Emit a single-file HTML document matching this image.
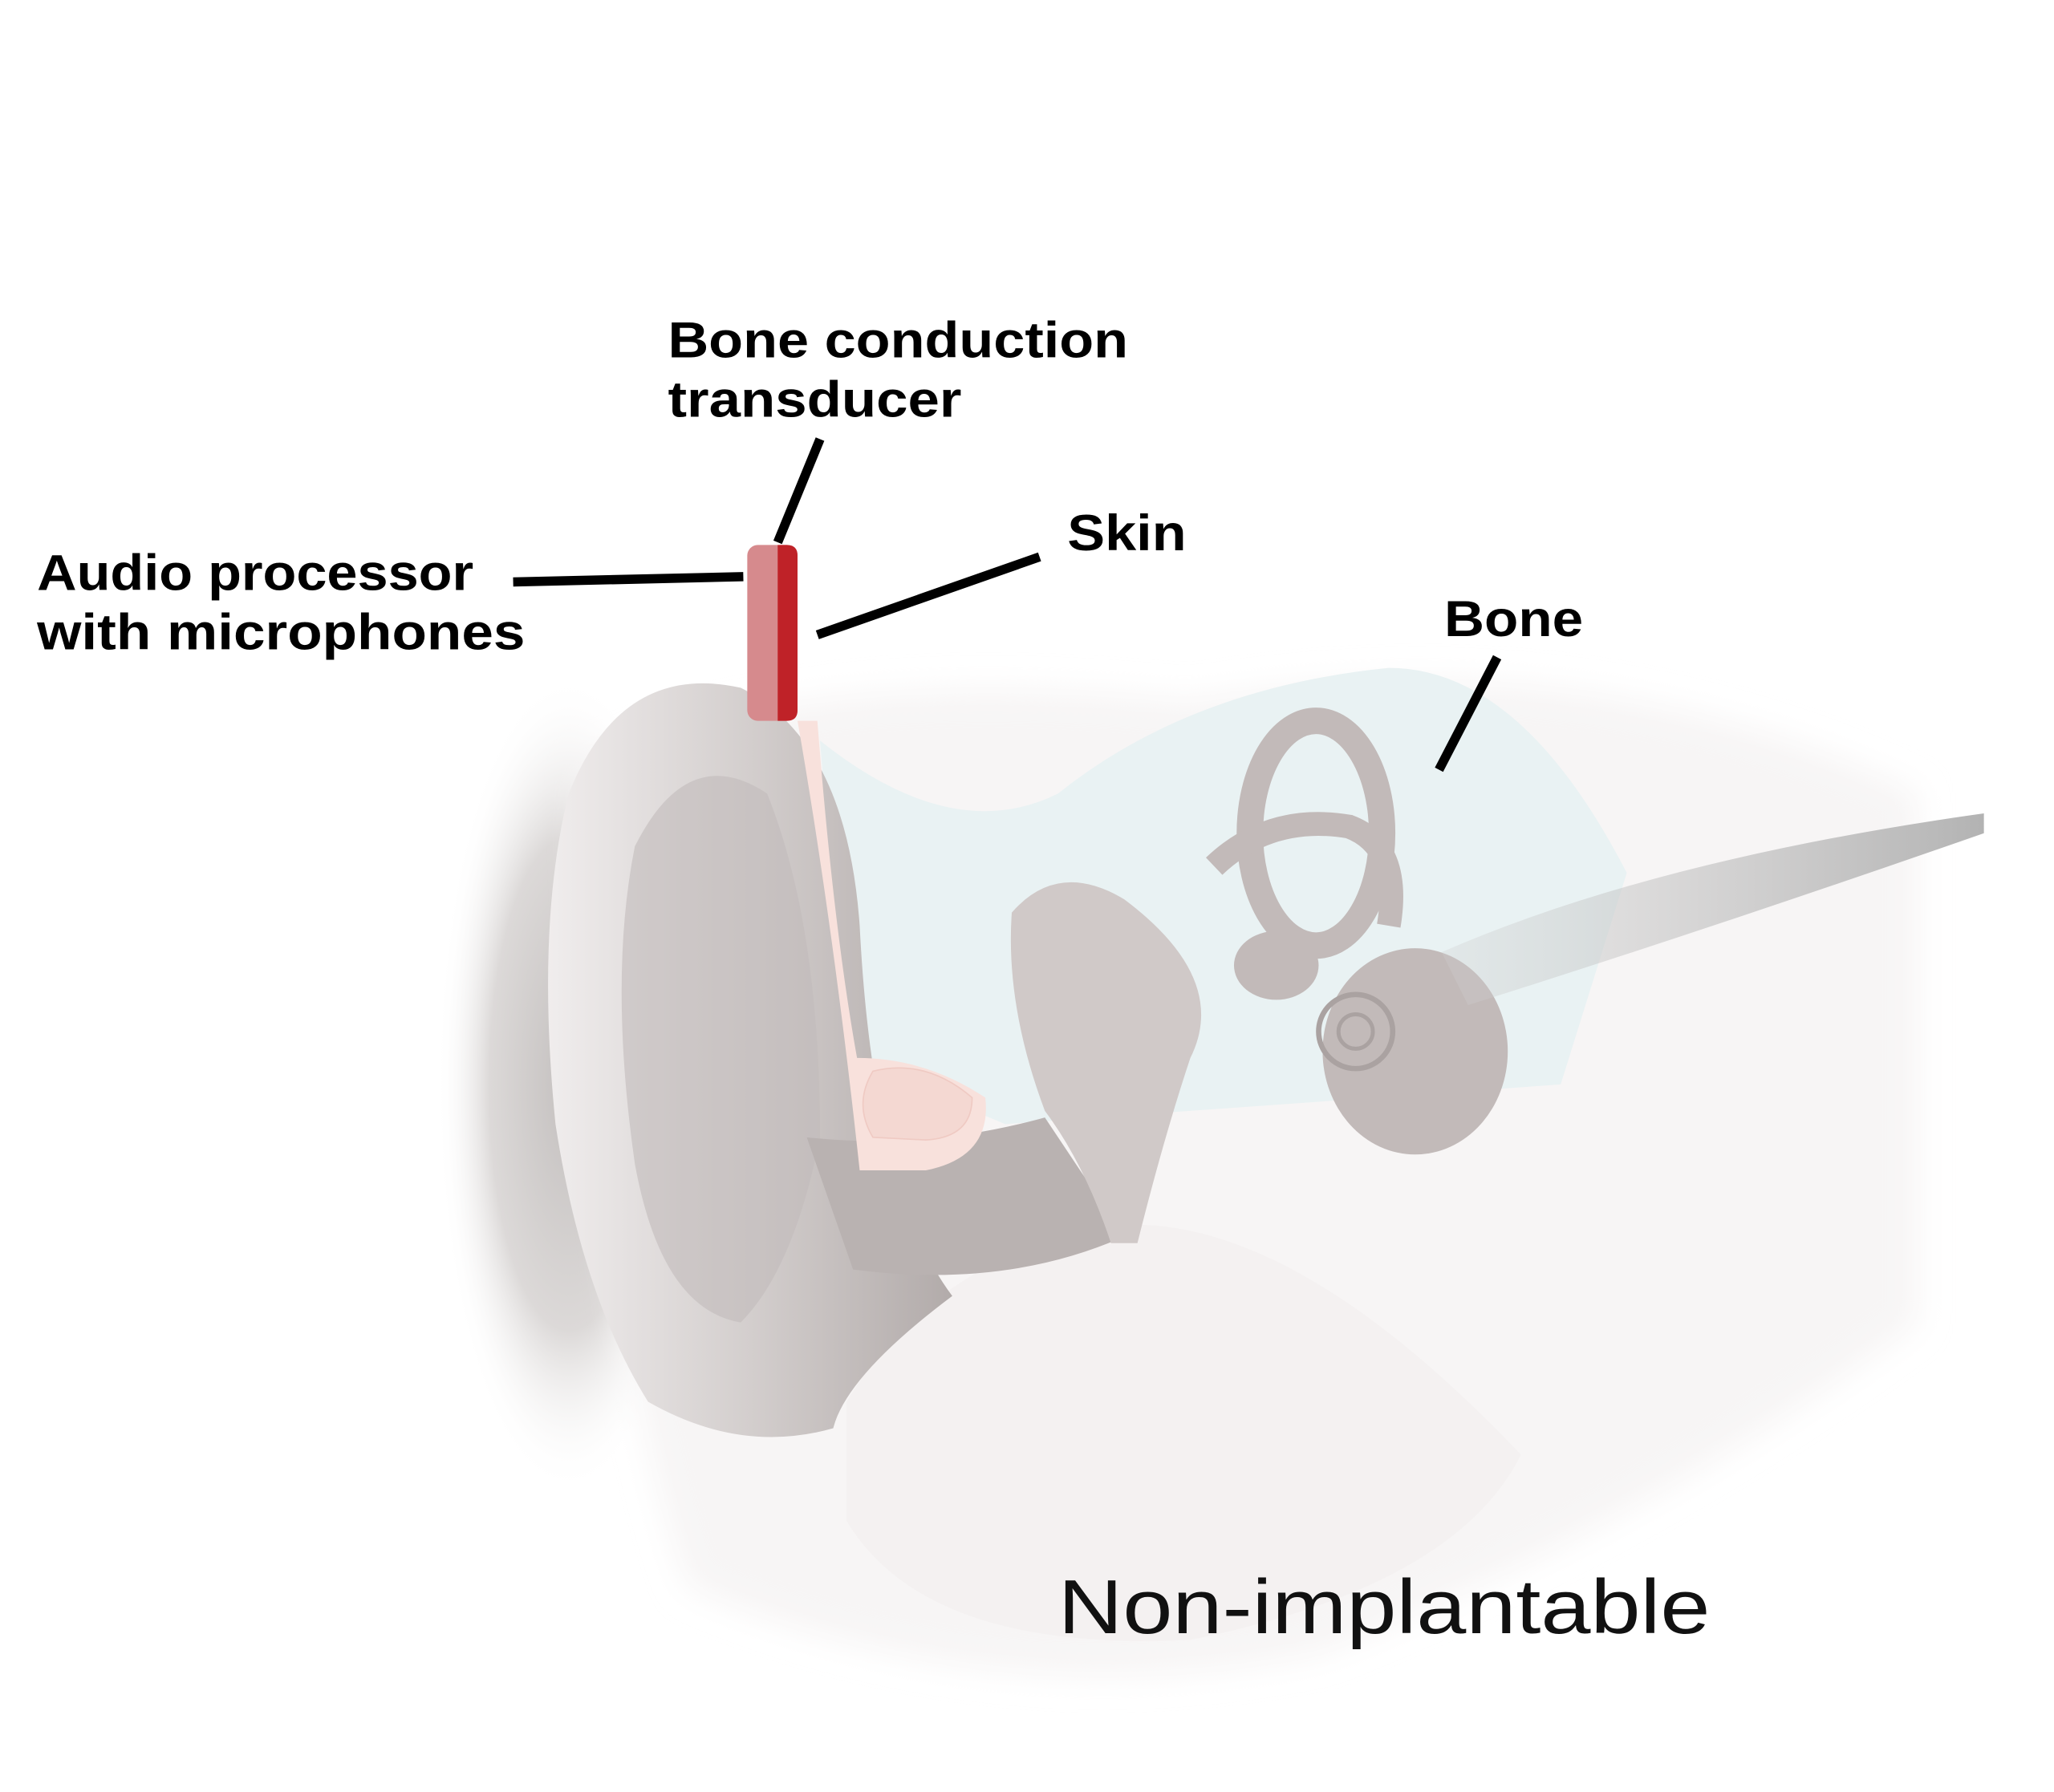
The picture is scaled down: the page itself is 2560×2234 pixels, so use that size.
<!DOCTYPE html>
<html><head><meta charset="utf-8"><style>
html,body{margin:0;padding:0;background:#fff;}
svg{display:block}
</style></head><body>
<svg width="2560" height="2234" viewBox="0 0 1553 1355" xmlns="http://www.w3.org/2000/svg">
<defs>
<radialGradient id="hair" cx="0.5" cy="0.5" r="0.5">
<stop offset="0" stop-color="#c4c0bf"/><stop offset="0.6" stop-color="#dcd9d8"/><stop offset="1" stop-color="#fff" stop-opacity="0"/>
</radialGradient>
<linearGradient id="ear" x1="0" y1="0" x2="1" y2="0">
<stop offset="0" stop-color="#f0eded"/><stop offset="0.5" stop-color="#d3cecd"/><stop offset="1" stop-color="#b2abaa"/>
</linearGradient>
<linearGradient id="nerve" x1="0" y1="0" x2="1" y2="0">
<stop offset="0" stop-color="#cfcfcf" stop-opacity="0.3"/><stop offset="1" stop-color="#aaa" stop-opacity="0.9"/>
</linearGradient>
<filter id="soft"><feGaussianBlur stdDeviation="12"/></filter>
</defs>
<rect width="1553" height="1355" fill="#fff"/>
<ellipse cx="430" cy="820" rx="100" ry="310" fill="url(#hair)"/>
<path d="M440 580 Q600 500 900 530 Q1200 480 1450 600 L1450 1000 Q1250 1150 1000 1250 Q750 1300 520 1200 Q450 1000 440 580 Z" fill="#f7f5f5" filter="url(#soft)"/>
<path d="M620 560 Q720 640 800 600 Q900 520 1050 505 Q1150 505 1230 660 L1180 820 L760 850 L640 800 Z" fill="#e9f2f3"/>
<path d="M640 1060 Q700 960 820 930 Q960 900 1150 1100 Q1100 1200 900 1240 Q700 1250 640 1150 Z" fill="#f4f1f1"/>
<path d="M430 600 Q470 500 560 520 Q640 560 650 700 Q660 900 720 980 Q640 1040 630 1080 Q560 1100 490 1060 Q440 980 420 850 Q405 700 430 600 Z" fill="url(#ear)"/>
<path d="M480 640 Q520 560 580 600 Q620 700 620 860 Q600 960 560 1000 Q500 990 480 880 Q460 740 480 640 Z" fill="#c2bbba" opacity="0.6"/>
<path d="M610 860 Q700 870 790 845 L850 935 Q760 975 645 960 Z" fill="#b9b2b1"/>
<path d="M603 545 L618 545 Q630 700 648 800 Q700 800 745 830 Q750 875 700 885 L650 885 Q630 700 603 545 Z" fill="#f8e1dc"/>
<path d="M660 810 Q700 800 735 830 Q735 860 700 862 L660 860 Q645 835 660 810Z" fill="#f4d8d2" stroke="#efcac3"/>
<path d="M765 690 Q800 650 850 680 Q930 740 900 800 Q880 860 860 940 L840 940 Q820 880 790 840 Q760 760 765 690 Z" fill="#d0c9c8"/>
<ellipse cx="995" cy="630" rx="50" ry="85" fill="none" stroke="#c2bab9" stroke-width="20"/>
<path d="M918 655 Q960 615 1020 625 Q1060 640 1050 700" fill="none" stroke="#c2bab9" stroke-width="18"/>
<ellipse cx="965" cy="730" rx="32" ry="26" fill="#c2bab9"/>
<ellipse cx="1070" cy="795" rx="70" ry="78" fill="#c2bab9"/>
<circle cx="1025" cy="780" r="28" fill="none" stroke="#aaa2a1" stroke-width="4"/>
<circle cx="1025" cy="780" r="13" fill="none" stroke="#aaa2a1" stroke-width="3"/>
<path d="M1090 720 Q1250 650 1500 615 L1500 630 Q1300 700 1110 760 Z" fill="url(#nerve)"/>
<rect x="565" y="412" width="38" height="133" rx="8" fill="#d68a8d"/>
<path d="M588 412 L595 412 Q603 412 603 420 L603 537 Q603 545 595 545 L588 545 Z" fill="#bf2228"/>
<g stroke="#000" stroke-width="7">
<line x1="620" y1="332" x2="588" y2="410"/>
<line x1="388" y1="440" x2="562" y2="436"/>
<line x1="618" y1="480" x2="786" y2="421"/>
<line x1="1132" y1="497" x2="1088" y2="582"/>
</g>
<g font-family="Liberation Sans, sans-serif" font-weight="bold" font-size="38" fill="#000" lengthAdjust="spacingAndGlyphs">
<text x="505" y="270" textLength="348" lengthAdjust="spacingAndGlyphs">Bone conduction</text>
<text x="505" y="315" textLength="222" lengthAdjust="spacingAndGlyphs">transducer</text>
<text x="28" y="446" textLength="330" lengthAdjust="spacingAndGlyphs">Audio processor</text>
<text x="28" y="491" textLength="369" lengthAdjust="spacingAndGlyphs">with microphones</text>
<text x="807" y="416" textLength="90" lengthAdjust="spacingAndGlyphs">Skin</text>
<text x="1092" y="481" textLength="105" lengthAdjust="spacingAndGlyphs">Bone</text>
</g>
<text x="800" y="1235" font-family="Liberation Sans, sans-serif" font-size="58" fill="#111" textLength="493" lengthAdjust="spacingAndGlyphs">Non-implantable</text>
</svg>
</body></html>
